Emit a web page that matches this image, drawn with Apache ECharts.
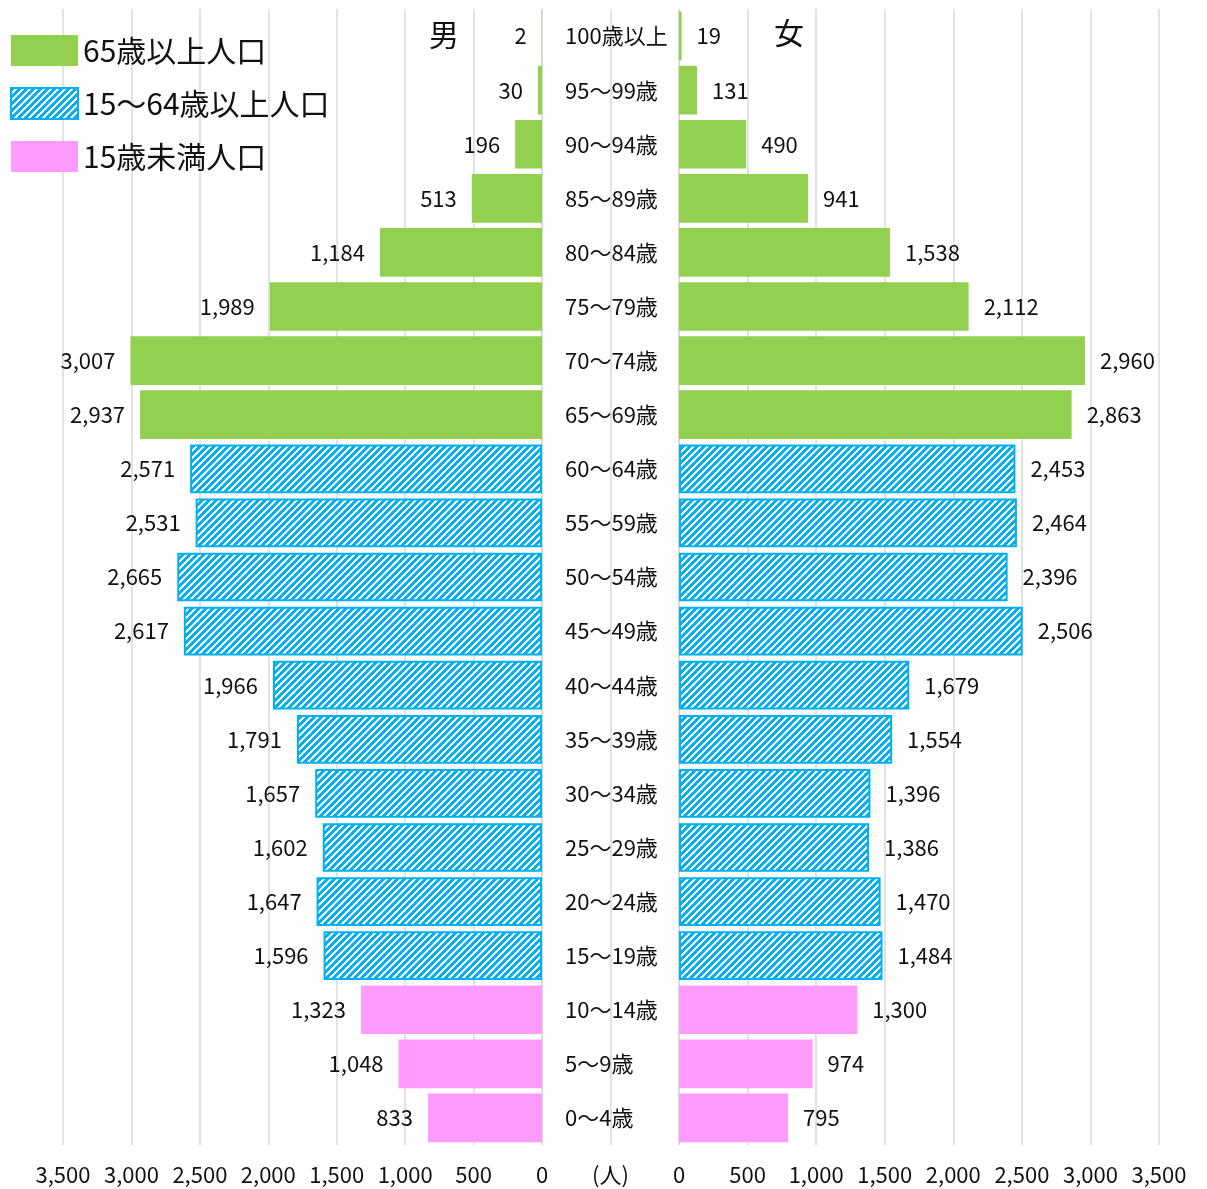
<!DOCTYPE html>
<html>
<head>
<meta charset="utf-8">
<script src="https://cdn.jsdelivr.net/npm/echarts@6/dist/echarts.min.js"></script>
<style>
html,body{margin:0;padding:0;background:#fff;}
#chart{width:1207px;height:1189px;}
</style>
</head>
<body>
<div id="chart"></div>
<script>
// ---- data ----
const ages = ['100歳以上','95～99歳','90～94歳','85～89歳','80～84歳','75～79歳','70～74歳','65～69歳',
  '60～64歳','55～59歳','50～54歳','45～49歳','40～44歳','35～39歳','30～34歳','25～29歳','20～24歳','15～19歳',
  '10～14歳','5～9歳','0～4歳'];
const male = [2,30,196,513,1184,1989,3007,2937,2571,2531,2665,2617,1966,1791,1657,1602,1647,1596,1323,1048,833];
const female = [19,131,490,941,1538,2112,2960,2863,2453,2464,2396,2506,1679,1554,1396,1386,1470,1484,1300,974,795];
const groupNames = ['65歳以上人口','15～64歳以上人口','15歳未満人口'];
// group index of each age row (0 = 65+, 1 = 15-64, 2 = under 15)
const ageGroup = [0,0,0,0,0,0,0,0, 1,1,1,1,1,1,1,1,1,1, 2,2,2];

// ---- styles ----
const FONT = '"Noto Sans CJK JP","Noto Sans",sans-serif';
const TXT = '#111';
const GRID = '#d9d9d9';

function hatch(){
  const n = 7;
  const c = document.createElement('canvas');
  c.width = n; c.height = n;
  const g = c.getContext('2d');
  g.fillStyle = '#fff'; g.fillRect(0,0,n,n);
  g.fillStyle = '#00B0F0';
  for (let x=0;x<n;x++) for (let y=0;y<n;y++) if ((x+y)%n < 4) g.fillRect(x,y,1,1);
  return c;
}
const hatchImg = hatch();
const groupStyles = [
  {color:'#92D050'},
  {color:{image:hatchImg, repeat:'repeat'}, borderColor:'#00B0F0', borderWidth:2},
  {color:'#FF9BFF'}
];
const fmt = v => v.toLocaleString('en-US');

function makeSeries(values, side){
  return groupNames.map((name, gi) => ({
    name: name,
    type: 'bar',
    stack: side,
    xAxisIndex: side === 'L' ? 0 : 2,
    yAxisIndex: side === 'L' ? 0 : 2,
    barWidth: '90%',
    itemStyle: groupStyles[gi],
    data: values.map((v,i) => ageGroup[i] === gi ? v : '-'),
    label: {
      show: true,
      position: side === 'L' ? 'left' : 'right',
      distance: 15,
      fontSize: 22,
      fontFamily: FONT,
      color: TXT,
      formatter: p => fmt(p.value)
    },
    emphasis: {disabled: true},
    animation: false
  }));
}

const valueAxis = (gi, inverse) => ({
  type: 'value', gridIndex: gi, min: 0, max: 3500, interval: 500, inverse: inverse,
  axisLine: {show:false}, axisTick: {show:false},
  splitLine: {show:true, lineStyle:{color:GRID, width:1.5}},
  axisLabel: {fontSize:22, fontFamily:FONT, color:TXT, margin:19, formatter: v => fmt(v)}
});

const chart = echarts.init(document.getElementById('chart'), null, {renderer:'canvas'});
chart.setOption({
  backgroundColor: '#fff',
  animation: false,
  title: [
    {text:'男', left: 424, top: 15, textStyle:{fontSize:30, fontWeight:'normal', fontFamily:FONT, color:TXT}},
    {text:'女', left: 769, top: 13, textStyle:{fontSize:30, fontWeight:'normal', fontFamily:FONT, color:TXT}}
  ],
  legend: {
    data: groupNames,
    orient: 'vertical',
    left: 10, top: 35, padding: 0,
    itemWidth: 67, itemHeight: 31, itemGap: 21,
    icon: 'rect',
    selectedMode: false,
    textStyle: {fontSize:30, fontFamily:FONT, color:TXT}
  },
  grid: [
    {left: 63, width: 479, top: 9, height: 1136},
    {left: 542, width: 137, top: 9, height: 1136},
    {left: 679, width: 480, top: 9, height: 1136}
  ],
  xAxis: [
    valueAxis(0, true),
    {type:'value', gridIndex:1, min:0, max:2, interval:1,
      axisLine:{show:false}, axisTick:{show:false},
      splitLine:{show:true, lineStyle:{color:GRID, width:1.5}},
      axisLabel:{fontSize:22, fontFamily:FONT, color:TXT, margin:19, formatter: v => v === 1 ? '(人)' : ''}},
    valueAxis(2, false)
  ],
  yAxis: [
    {type:'category', gridIndex:0, data: ages, inverse: true, position:'right',
      axisLine:{show:false, onZero:false}, axisTick:{show:false},
      axisLabel:{show:true, align:'left', margin:23, fontSize:22, fontFamily:FONT, color:TXT}},
    {type:'category', gridIndex:1, data: ages, inverse: true, show:false},
    {type:'category', gridIndex:2, data: ages, inverse: true, show:false}
  ],
  series: [...makeSeries(male,'L'), ...makeSeries(female,'R')]
});
</script>
</body>
</html>
